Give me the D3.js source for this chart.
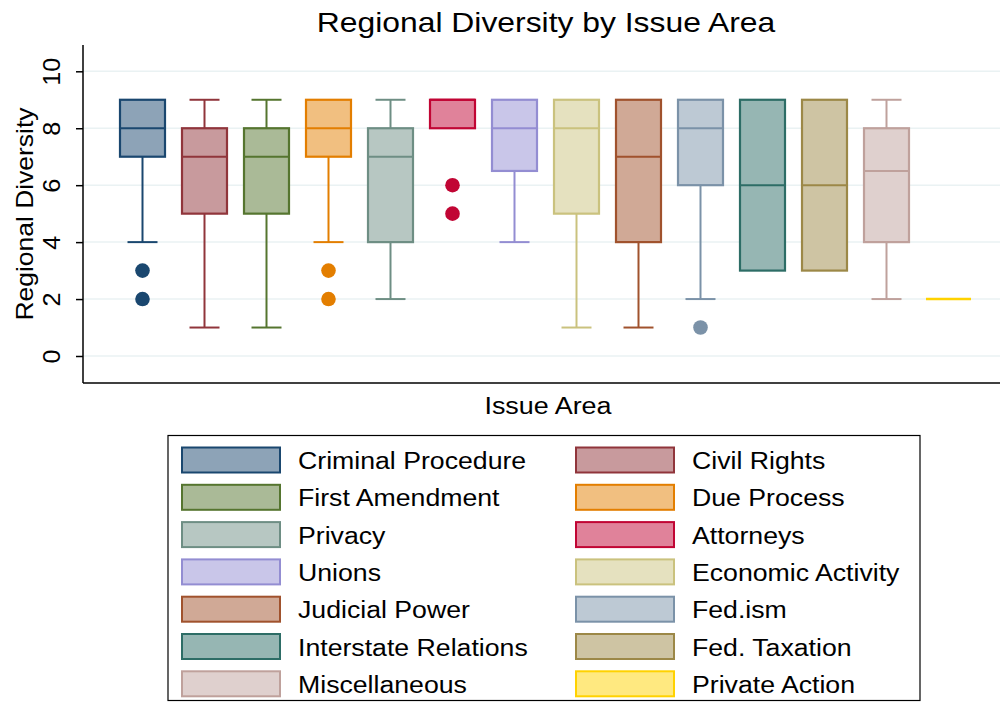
<!DOCTYPE html>
<html><head><meta charset="utf-8">
<script src="https://cdn.jsdelivr.net/npm/d3@7"></script>
<style>body{margin:0;background:#fff}svg{display:block;font-family:"Liberation Sans",Arial,sans-serif}</style>
</head><body><svg id="c" width="1000" height="708"></svg>
<script>
const categories = ["Criminal Procedure","Civil Rights","First Amendment","Due Process","Privacy","Attorneys","Unions","Economic Activity","Judicial Power","Fed.ism","Interstate Relations","Fed. Taxation","Miscellaneous","Private Action"];
const whiskerLow  = [4,1,1,4,2,8,4,1,1,2,3,3,2,2];
const q1          = [7,5,5,7,4,8,6.5,5,4,6,3,3,4,2];
const median      = [8,7,7,8,7,9,8,8,7,8,6,6,6.5,2];
const q3          = [9,8,8,9,8,9,9,9,9,9,9,9,8,2];
const whiskerHigh = [9,9,9,9,9,9,9,9,9,9,9,9,9,2];
const outliers    = [[3,2],[],[],[3,2],[],[6,5],[],[],[],[1],[],[],[],[]];
const colors = ["#1a476f","#90353b","#55752f","#e37e00","#6e8e84","#c10534","#938dd2","#cac27e","#a0522d","#7b92a8","#2d6d66","#9c8847","#bfa19c","#ffd200"];
const yTicks = [0,2,4,6,8,10];

const svg = d3.select("#c");
const plotL = 83, plotR = 1000, plotT = 45, plotB = 383;
const y = d3.scaleLinear().domain([0,10]).range([356,71.3]);
const x = d3.scalePoint().domain(categories).range([142.5,948.5]);
const fill = c => d3.interpolateRgb(c, "#fff")(0.5);

// gridlines
svg.append("g").selectAll("line").data(yTicks).join("line")
  .attr("x1",plotL).attr("x2",plotR).attr("y1",d=>y(d)).attr("y2",d=>y(d))
  .attr("stroke","#eaf2f3").attr("stroke-width",1.5);

// y axis
const ya = svg.append("g").attr("transform",`translate(${plotL},0)`)
  .call(d3.axisLeft(y).tickValues(yTicks).tickSize(7).tickPadding(0));
ya.select(".domain").attr("d",`M0,${plotT}V${plotB}`).attr("stroke","#000").attr("stroke-width",1.5);
ya.selectAll(".tick line").attr("stroke","#000").attr("stroke-width",1.5);
ya.selectAll(".tick text").attr("font-size",24).attr("fill","#000")
  .attr("text-anchor","middle").attr("dy",0).attr("x",0).attr("y",0)
  .attr("transform","translate(-23,0) rotate(-90) scale(1.05,1)");
// x axis line
svg.append("line").attr("x1",plotL).attr("x2",plotR).attr("y1",plotB).attr("y2",plotB)
  .attr("stroke","#000").attr("stroke-width",1.5);

const bw = 45, cw = 30;
const g = svg.append("g");
categories.forEach((cat,i)=>{
  const cx = x(cat), col = colors[i];
  const gg = g.append("g");
  if (whiskerHigh[i] > q3[i]) {
    gg.append("line").attr("x1",cx).attr("x2",cx).attr("y1",y(q3[i])).attr("y2",y(whiskerHigh[i])).attr("stroke",col).attr("stroke-width",2);
    gg.append("line").attr("x1",cx-cw/2).attr("x2",cx+cw/2).attr("y1",y(whiskerHigh[i])).attr("y2",y(whiskerHigh[i])).attr("stroke",col).attr("stroke-width",2);
  }
  if (whiskerLow[i] < q1[i]) {
    gg.append("line").attr("x1",cx).attr("x2",cx).attr("y1",y(q1[i])).attr("y2",y(whiskerLow[i])).attr("stroke",col).attr("stroke-width",2);
    gg.append("line").attr("x1",cx-cw/2).attr("x2",cx+cw/2).attr("y1",y(whiskerLow[i])).attr("y2",y(whiskerLow[i])).attr("stroke",col).attr("stroke-width",2);
  }
  if (q3[i] > q1[i]) {
    gg.append("rect").attr("x",cx-bw/2).attr("width",bw).attr("y",y(q3[i])).attr("height",y(q1[i])-y(q3[i]))
      .attr("fill",fill(col)).attr("stroke",col).attr("stroke-width",2.2);
    gg.append("line").attr("x1",cx-bw/2).attr("x2",cx+bw/2).attr("y1",y(median[i])).attr("y2",y(median[i])).attr("stroke",col).attr("stroke-width",2);
  } else {
    gg.append("line").attr("x1",cx-bw/2).attr("x2",cx+bw/2).attr("y1",y(median[i])).attr("y2",y(median[i])).attr("stroke",col).attr("stroke-width",2.5);
  }
  gg.selectAll("circle").data(outliers[i]).join("circle")
    .attr("cx",cx).attr("cy",d=>y(d)).attr("r",7.3).attr("fill",col);
});

// titles
svg.append("text").attr("transform","translate(546,32) scale(1.18,1)").attr("text-anchor","middle").attr("font-size",27).text("Regional Diversity by Issue Area");
svg.append("text").attr("transform","translate(548,414) scale(1.16,1)").attr("text-anchor","middle").attr("font-size",23.2).text("Issue Area");
svg.append("text").attr("transform","translate(33,214) rotate(-90) scale(1.15,1)").attr("text-anchor","middle").attr("font-size",23).text("Regional Diversity");

// legend
const lg = svg.append("g");
lg.append("rect").attr("x",168).attr("y",435.5).attr("width",752).attr("height",265).attr("fill","#fff").attr("stroke","#000").attr("stroke-width",1.2);
categories.forEach((cat,i)=>{
  const colIdx = i%2, row = Math.floor(i/2);
  const sx = colIdx===0 ? 182 : 576;
  const sy = 447.5 + row*37.3;
  lg.append("rect").attr("x",sx).attr("y",sy).attr("width",98).attr("height",25)
    .attr("fill",fill(colors[i])).attr("stroke",colors[i]).attr("stroke-width",2);
  lg.append("text").attr("transform",`translate(${sx+116},${sy+21.5}) scale(1.16,1)`).attr("font-size",23).text(cat);
});
</script></body></html>
